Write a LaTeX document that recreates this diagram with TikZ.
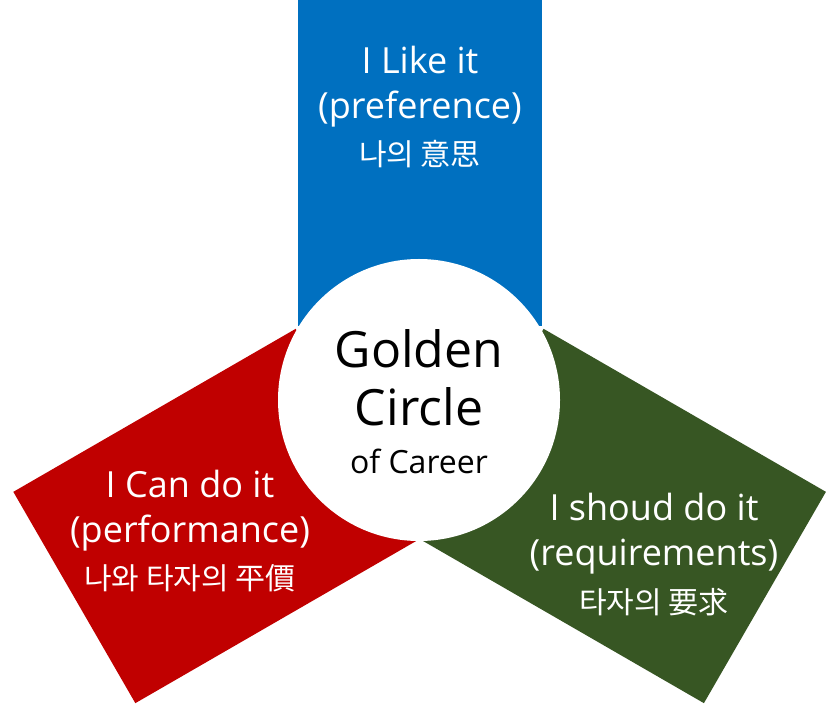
\documentclass[tikz,border=0pt]{standalone}
\usepackage{fontspec}
\setmainfont{Open Sans}
\newfontfamily\kr{Noto Sans CJK KR}
\usetikzlibrary{positioning}
\definecolor{like}{HTML}{0070C0}
\definecolor{can}{HTML}{C00000}
\definecolor{should}{HTML}{375623}
\tikzset{
  petal/.style={inner sep=0pt,minimum width=122pt,minimum height=163pt},
  petaltext/.style={text=white,align=center,inner sep=0pt,font=\fontsize{18}{22.5}\selectfont},
}
\newcommand\hangul[1]{{\kr\fontsize{15}{15}\selectfont #1}}

\begin{document}
\begin{tikzpicture}[x=.5pt,y=-.5pt]
\fill[white] (0,0) rectangle (840,704);
\useasboundingbox (0,0) rectangle (840,704);
\node[petal,fill=like] (like) at (420,163){};
\node[petal,fill=can,rotate=120] (can) at (215.5,516){};
\node[petal,fill=should,rotate=-120] (should) at (623.75,516){};
\node[circle,fill=white,minimum size=141pt,inner sep=0pt] (gc) at (419,400){};
\node[petaltext] (liketext) at (420,107){I Like it\\(preference)\\[1pt]\hangul{나의 意思}};
\node[petaltext] (cantext) at (190,531){I Can do it\\(performance)\\[1pt]\hangul{나와 타자의 平價}};
\node[petaltext] (shouldtext) at (654,555){I shoud do it\\(requirements)\\[1.5pt]\hangul{타자의 要求}};
\node[align=center,inner sep=0pt,font=\fontsize{25}{29}\selectfont] (gctext) at (419,402){Golden\\Circle\\[-5pt]{\fontsize{16}{16}\selectfont of Career}};
\end{tikzpicture}
\end{document}
